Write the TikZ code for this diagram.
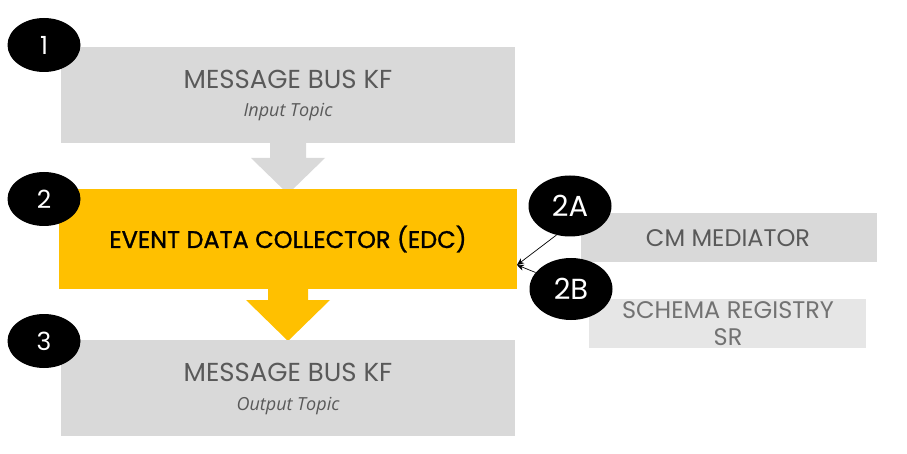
\documentclass[tikz,border=0pt]{standalone}
\usepackage{fontspec}
\setmainfont{Poppins}
\newfontfamily\itfont{Open Sans}
\usetikzlibrary{arrows.meta,shapes.geometric}
\definecolor{boxgray}{HTML}{D9D9D9}
\definecolor{lightgray2}{HTML}{E6E6E6}
\definecolor{txtgray}{HTML}{595959}
\definecolor{edcyellow}{HTML}{FFC000}
\tikzset{
  bus/.style={fill=boxgray, draw=none, minimum width=454pt, minimum height=96pt, inner sep=0pt},
  badge/.style={ellipse, fill=black, draw=none, minimum width=73pt, minimum height=54pt, inner sep=0pt, text=white, font=\fontsize{25}{28}\selectfont},
  sidebox/.style={draw=none, inner sep=0pt},
  bustext/.style={text=txtgray, font=\fontsize{26}{29}\selectfont},
  topictext/.style={text=txtgray, font=\itfont\itshape\fontsize{18}{21}\selectfont},
  sidetext/.style={text=txtgray, font=\fontsize{24}{28}\selectfont},
  conn/.style={-{Stealth[length=7pt,width=6pt]}, line width=0.7pt, black},
}
\begin{document}
\begin{tikzpicture}[x=1pt,y=-1pt]
\useasboundingbox (0,0) rectangle (907,454);
% bus 1
\node[bus] (bus1) at (288,95) {};
\node[bustext] (t1) at (288,79) {MESSAGE BUS KF};
\node[topictext] (s1) at (288,112) {Input Topic};
% gray arrow
\fill[boxgray] (270,143) -- (306,143) -- (306,158) -- (325,158) -- (288,194) -- (251,158) -- (270,158) -- cycle;
% EDC
\node[fill=edcyellow, draw=none, minimum width=458pt, minimum height=100pt, inner sep=0pt] (edc) at (288,239) {};
\node[font=\addfontfeature{FakeBold=1.2}\fontsize{24}{28}\selectfont, text=black] (edct) at (288,239) {EVENT DATA COLLECTOR (EDC)};
% yellow arrow
\fill[edcyellow] (268,289) -- (308,289) -- (308,300) -- (330,300) -- (288,341) -- (246,300) -- (268,300) -- cycle;
% bus 3
\node[bus] (bus3) at (288,388) {};
\node[bustext] (t3) at (288,372) {MESSAGE BUS KF};
\node[topictext] (s3) at (288,406) {Output Topic};
% side boxes
\node[sidebox, fill=boxgray, minimum width=296pt, minimum height=49pt] (cm) at (729,237.5) {};
\node[sidetext] (cmt) at (728,238) {CM MEDIATOR};
\node[sidebox, fill=lightgray2, minimum width=277pt, minimum height=49pt] (sr) at (727.5,323.5) {};
\node[sidetext, text=txtgray!85, align=center] (srt) at (728,324) {SCHEMA REGISTRY\\[-1pt]SR};
% badges
\node[badge] (b1) at (44,45) {1};
\node[badge] (b2) at (44,199) {2};
\node[badge] (b3) at (44,341) {3};
\node[badge, minimum width=83pt, minimum height=61pt, font=\fontsize{29}{32}\selectfont] (b2a) at (570,206) {2A};
\node[badge, minimum width=83pt, minimum height=62pt, font=\fontsize{29}{32}\selectfont] (b2b) at (571,289) {2B};
% connectors
\coordinate (tip) at (517,265);
\draw[conn] (b2a.245) -- (tip);
\draw[conn] (b2b.155) -- (tip);
\end{tikzpicture}
\end{document}
